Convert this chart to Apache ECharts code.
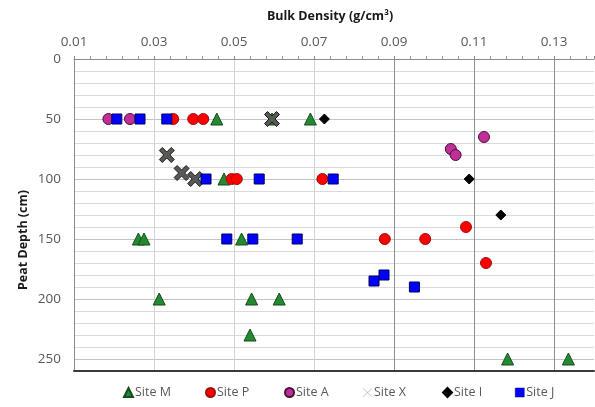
<!DOCTYPE html>
<html>
<head>
<meta charset="utf-8">
<script src="https://cdn.jsdelivr.net/npm/echarts@6/dist/echarts.min.js"></script>
<style>
  html, body { margin: 0; padding: 0; background: #fff; }
  #chart { width: 595px; height: 407px; }
</style>
</head>
<body>
<div id="chart"></div>
<script>
// Bulk density (g/cm3) against peat depth (cm) for each site
const siteM_density = [0.0595, 0.0457, 0.0691, 0.0475, 0.0261, 0.0275, 0.0519, 0.0313, 0.0544, 0.0613, 0.0540, 0.1184, 0.1336];
const siteM_depth   = [50, 50, 50, 100, 150, 150, 150, 200, 200, 200, 230, 250, 250];

const siteP_density = [0.0348, 0.0398, 0.0423, 0.0494, 0.0507, 0.0721, 0.1080, 0.0877, 0.0978, 0.1130];
const siteP_depth   = [50, 50, 50, 100, 100, 100, 140, 150, 150, 170];

const siteA_density = [0.0186, 0.0240, 0.1125, 0.1042, 0.1054];
const siteA_depth   = [50, 50, 65, 75, 80];

const siteX_density = [0.0595, 0.0332, 0.0369, 0.0403];
const siteX_depth   = [50, 80, 95, 100];

const siteI_density = [0.0726, 0.1088, 0.1167];
const siteI_depth   = [50, 100, 130];

const siteJ_density = [0.0207, 0.0265, 0.0332, 0.0430, 0.0563, 0.0748, 0.0482, 0.0547, 0.0658, 0.0875, 0.0850, 0.0951];
const siteJ_depth   = [50, 50, 50, 100, 100, 100, 150, 150, 150, 180, 185, 190];

const siteNames = ['Site M', 'Site P', 'Site A', 'Site X', 'Site I', 'Site J'];

const densityTicks = [0.01, 0.03, 0.05, 0.07, 0.09, 0.11, 0.13];
const depthTicks = [0, 50, 100, 150, 200, 250];

const pairs = (xs, ys) => xs.map((x, i) => [x, ys[i]]);

const crossThick = 'path://M2,0L5,3L8,0L10,2L7,5L10,8L8,10L5,7L2,10L0,8L3,5L0,2Z';
const crossThin = 'path://M0.6,0L5,4.4L9.4,0L10,0.6L5.6,5L10,9.4L9.4,10L5,5.6L0.6,10L0,9.4L4.4,5L0,0.6Z';

const labelColor = '#595959';
const fontFamily = '"Open Sans", "Liberation Sans", sans-serif';

// vertical grid lines: light on the left, darker from 0.09 on; none at the right edge
const xLineColors = ['#9a9a9a', '#d2d2d2', '#d2d2d2', '#d2d2d2', '#8e8e8e', '#8e8e8e', '#8e8e8e', 'rgba(0,0,0,0)'];
// horizontal grid lines every 10 cm, a touch stronger every 50 cm
const yLineColors = ['#c4c4c4', '#dadada', '#dadada', '#dadada', '#dadada'];

const seriesDefs = [
  { name: 'Site M', data: pairs(siteM_density, siteM_depth), symbol: 'triangle', size: 12, color: '#238a32', border: '#144d1c' },
  { name: 'Site P', data: pairs(siteP_density, siteP_depth), symbol: 'circle', size: 11, color: '#ff0000', border: '#9c1010' },
  { name: 'Site A', data: pairs(siteA_density, siteA_depth), symbol: 'circle', size: 11, color: '#bf2f97', border: '#4a1038' },
  { name: 'Site X', data: pairs(siteX_density, siteX_depth), symbol: crossThick, size: 15, color: '#555a55', border: '#1c1c1c' },
  { name: 'Site I', data: pairs(siteI_density, siteI_depth), symbol: 'diamond', size: 10, color: '#000000', border: '#000000' },
  { name: 'Site J', data: pairs(siteJ_density, siteJ_depth), symbol: 'rect', size: 10, color: '#0000ff', border: '#00005a' }
];

const series = seriesDefs.map(d => ({
  name: d.name,
  type: 'scatter',
  xAxisIndex: 0,
  yAxisIndex: 0,
  data: d.data,
  symbol: d.symbol,
  symbolSize: d.size,
  itemStyle: { color: d.color, borderColor: d.border, borderWidth: 1, opacity: 1 },
  emphasis: { disabled: true }
}));

// one legend per entry so each sits at its own spot along the bottom
const legendLeft = [123, 205, 284, 363, 442, 515];
const legends = siteNames.map((name, i) => {
  const item = { name: name };
  if (name === 'Site X') {
    item.icon = crossThin;
    item.itemStyle = { color: '#c4c4c4', borderWidth: 0 };
  } else if (name === 'Site J') {
    item.itemStyle = { borderWidth: 0.5 };
  }
  return {
    data: [item],
    left: legendLeft[i],
    top: 386,
    padding: 0,
    itemWidth: 9,
    itemHeight: 9,
    selectedMode: false,
    textStyle: { color: labelColor, fontSize: 12.5, fontFamily: fontFamily, padding: [0, 0, 0, -3] }
  };
});

const chart = echarts.init(document.getElementById('chart'), null, { renderer: 'canvas' });

chart.setOption({
  animation: false,
  backgroundColor: '#ffffff',
  grid: { left: 74, right: 1, top: 59, bottom: 36 },
  legend: legends,
  xAxis: [
    {
      type: 'value',
      position: 'top',
      min: densityTicks[0],
      max: 0.14,
      interval: 0.02,
      axisLine: { show: true, lineStyle: { color: '#8c8c8c', width: 1 } },
      axisTick: { show: true, length: 3, lineStyle: { color: '#8c8c8c' } },
      minorTick: { show: true, splitNumber: 5, length: 3, lineStyle: { color: '#a0a0a0' } },
      splitLine: { show: true, lineStyle: { color: xLineColors, width: 1 } },
      axisLabel: {
        color: labelColor,
        fontSize: 13.5,
        fontFamily: fontFamily,
        margin: 10,
        showMaxLabel: false,
        formatter: v => densityTicks.some(t => Math.abs(t - v) < 1e-6) ? v.toFixed(2) : ''
      },
      name: 'Bulk Density (g/cm³)',
      nameLocation: 'middle',
      nameGap: 36,
      nameTextStyle: { color: '#1a1a1a', fontSize: 12.5, fontWeight: 'bold', fontFamily: fontFamily, padding: [0, 8, 0, 0] }
    },
    {
      type: 'value',
      position: 'bottom',
      min: densityTicks[0],
      max: 0.14,
      axisLine: { show: true, onZero: false, lineStyle: { color: '#3a3a3a', width: 2 } },
      axisTick: { show: false },
      axisLabel: { show: false },
      splitLine: { show: false }
    }
  ],
  yAxis: {
    type: 'value',
    inverse: true,
    min: 0,
    max: 260,
    interval: 10,
    axisLine: { show: true, lineStyle: { color: '#8c8c8c', width: 1 } },
    axisTick: { show: false },
    splitLine: { show: true, lineStyle: { color: yLineColors, width: 1 } },
    axisLabel: {
      color: labelColor,
      fontSize: 13.5,
      fontFamily: fontFamily,
      margin: 13,
      formatter: v => depthTicks.indexOf(v) >= 0 ? String(v) : ''
    }
  },
  graphic: [
    {
      type: 'text',
      x: 23,
      y: 240,
      rotation: Math.PI / 2,
      style: {
        text: 'Peat Depth (cm)',
        fill: '#1a1a1a',
        font: 'bold 12.5px "Open Sans", "Liberation Sans", sans-serif',
        align: 'center',
        verticalAlign: 'middle'
      }
    }
  ],
  series: series
});
</script>
</body>
</html>
